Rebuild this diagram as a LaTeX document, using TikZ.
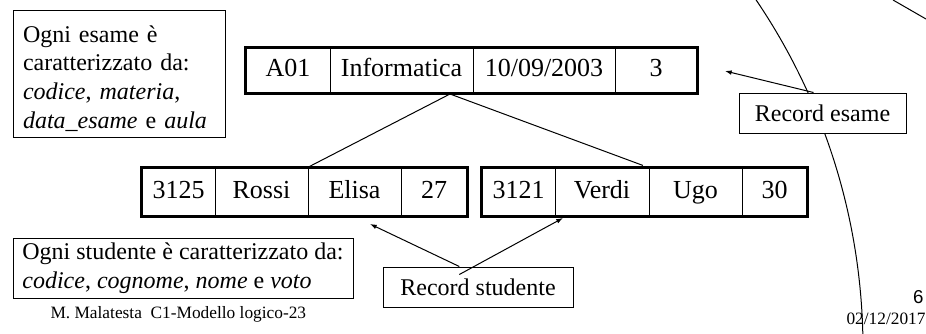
\documentclass[tikz,border=0pt]{standalone}
\usepackage{fontspec}
\setmainfont{Liberation Serif}
\newfontfamily\arialfont{Liberation Sans}
\usetikzlibrary{arrows.meta}

\begin{document}
\begin{tikzpicture}
  [x=0.75pt,y=-0.75pt,line width=0.75pt,>={Latex[length=5pt,width=3.5pt]},
   cell/.style={draw,inner sep=0pt,text height=13.5pt,text depth=4pt,font=\fontsize{19.5}{22}\selectfont},
   note/.style={draw,fill=white,align=left,inner ysep=0pt,font=\fontsize{18}{21.6}\selectfont},
   small/.style={inner sep=0pt,font=\fontsize{13}{15}\selectfont}]
  \useasboundingbox (0,0) rectangle (926,333);
  % slide background
  \begin{scope}
    \clip (0,0) rectangle (926,333);
    \draw (240,349) circle [radius=623];
  \end{scope}
  \draw (893,0) -- (926,19);
  % the exam record
  \node[cell,minimum width=63pt,minimum height=33.75pt] (e1) at (288,70.5) {A01};
  \node[cell,minimum width=107.25pt,minimum height=33.75pt] (e2) at (401.5,70.5) {Informatica};
  \node[cell,minimum width=106.5pt,minimum height=33.75pt] (e3) at (544,70.5) {10/09/2003};
  \node[cell,minimum width=61.5pt,minimum height=33.75pt] (e4) at (656,70.5) {3};
  \draw[line width=1.6pt] (e1.north west) rectangle (e4.south east);
  % the student records
  \node[cell,minimum width=54.75pt,minimum height=36pt] (s11) at (178.5,192) {3125};
  \node[cell,minimum width=69.75pt,minimum height=36pt] (s12) at (261.5,192) {Rossi};
  \node[cell,minimum width=69.75pt,minimum height=36pt] (s13) at (354.5,192) {Elisa};
  \node[cell,minimum width=49.5pt,minimum height=36pt] (s14) at (434,192) {27};
  \draw[line width=1.6pt] (s11.north west) rectangle (s14.south east);
  \node[cell,minimum width=54.75pt,minimum height=36pt] (s21) at (518.5,192) {3121};
  \node[cell,minimum width=70.5pt,minimum height=36pt] (s22) at (602,192) {Verdi};
  \node[cell,minimum width=69.75pt,minimum height=36pt] (s23) at (695.5,192) {Ugo};
  \node[cell,minimum width=48.75pt,minimum height=36pt] (s24) at (774.5,192) {30};
  \draw[line width=1.6pt] (s21.north west) rectangle (s24.south east);
  % links from the exam to the students
  \coordinate (apex) at (450,94);
  \draw (apex) -- (s13.north west);
  \draw[shorten >=4.5pt] (apex) -- (s23.north west);
  % notes
  \node[note,text width=144pt,inner xsep=7.5pt,minimum height=95.25pt] (notaesame) at (119,73.5)
    {\rule{0pt}{20pt}Ogni esame è\\caratterizzato da:\\\textit{codice}, \textit{materia},\\\textit{data\_esame} e \textit{aula}};
  \node[note,minimum width=255pt,minimum height=45pt] (notastud) at (183,268)
    {Ogni studente è caratterizzato da:\\\textit{codice}, \textit{cognome}, \textit{nome} e \textit{voto}};
  \node[note,minimum width=125.25pt,minimum height=30pt] (recesame) at (822.5,113) {Record esame};
  \node[note,minimum width=142.5pt,minimum height=30pt] (recstud) at (478,287) {Record studente};
  % arrows
  \coordinate (tipe) at (725,71);
  \coordinate (tips1) at (370,224);
  \coordinate (tips2) at (563,218);
  \draw[->] ([xshift=-6.75pt]recesame.north) -- (tipe);
  \draw[->] ([xshift=-14pt]recstud.north) -- (tips1);
  \draw[->] ([xshift=-14pt,yshift=-6pt]recstud.north) -- (tips2);
  % footer
  \node[small,anchor=west] (piede) at (50,314) {M. Malatesta\ \ C1-Modello logico-23};
  \node[inner sep=0pt,anchor=east,font=\arialfont\fontsize{14}{16}\selectfont] (pagina) at (924,297) {6};
  \node[small,anchor=east] (data) at (926,319) {02/12/2017};
\end{tikzpicture}
\end{document}
